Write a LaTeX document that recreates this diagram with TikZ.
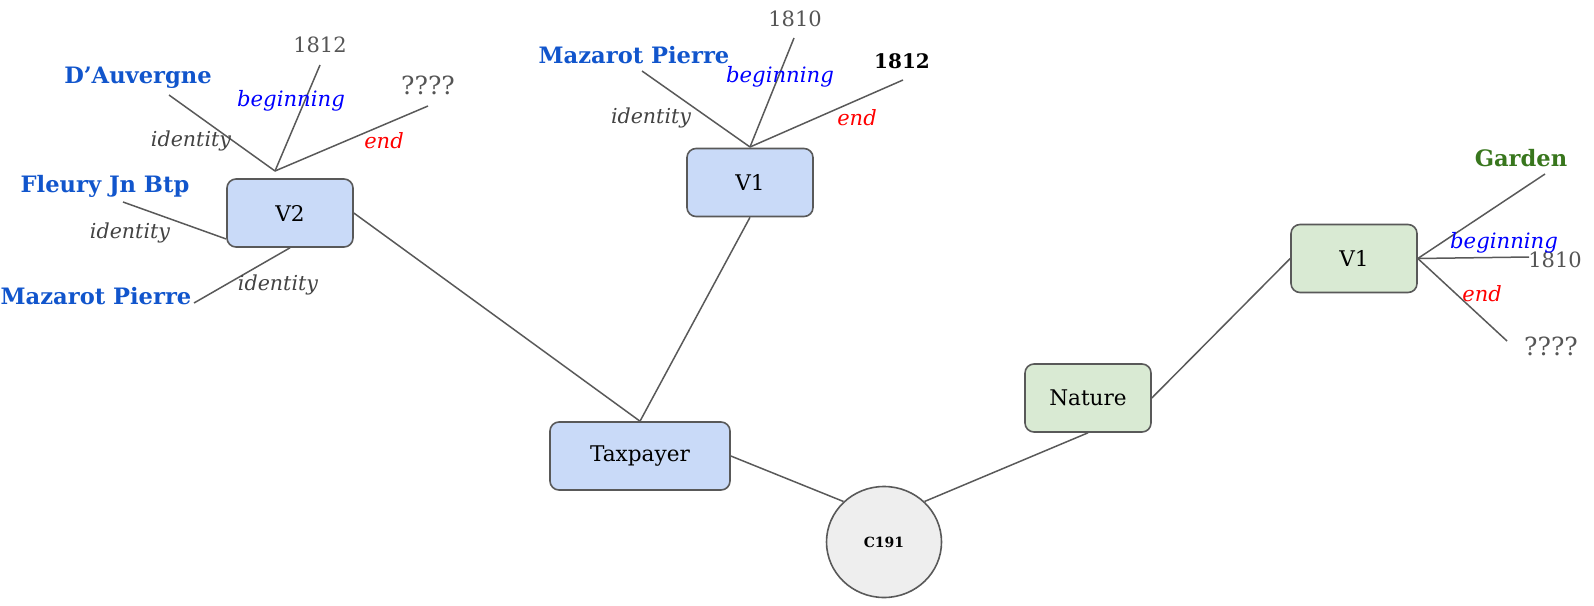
\documentclass[tikz,border=0pt]{standalone}
\usepackage{fontspec}
\usetikzlibrary{shapes.geometric}
\setmainfont{DejaVu Serif}
\definecolor{edgec}{HTML}{595959}
\definecolor{bluefill}{HTML}{C9DAF8}
\definecolor{greenfill}{HTML}{D9EAD3}
\definecolor{circfill}{HTML}{EEEEEE}
\definecolor{namec}{HTML}{1155CC}
\definecolor{gardenc}{HTML}{38761D}
\definecolor{greyt}{HTML}{555555}
\definecolor{idc}{HTML}{434343}
\tikzset{
  nodebox/.style={draw=edgec, line width=0.8pt, rounded corners=4.5pt, minimum width=63pt, minimum height=34pt, inner sep=0pt, font=\fontsize{10.8}{12}\selectfont},
  bluebox/.style={nodebox, fill=bluefill},
  greenbox/.style={nodebox, fill=greenfill},
  linkline/.style={draw=edgec, line width=0.75pt},
  nametext/.style={text=namec, font=\bfseries\fontsize{11.3}{13}\selectfont, inner sep=0pt},
  gnametext/.style={text=gardenc, font=\bfseries\fontsize{11.3}{13}\selectfont, inner sep=0pt},
  numtext/.style={text=greyt, font=\fontsize{10.5}{12}\selectfont, inner sep=0pt},
  qtext/.style={text=greyt, font=\fontsize{12.5}{14}\selectfont, inner sep=0pt},
  bnumtext/.style={text=black, font=\bfseries\fontsize{10}{12}\selectfont, inner sep=0pt},
  idtext/.style={text=idc, font=\itshape\fontsize{10.3}{12}\selectfont, inner sep=0pt},
  begtext/.style={text=blue, font=\itshape\fontsize{10.6}{12}\selectfont, inner sep=0pt},
  endtext/.style={text=red, font=\itshape\fontsize{10.5}{12}\selectfont, inner sep=0pt},
}
\begin{document}
\begin{tikzpicture}[x=0.5pt,y=-0.5pt]
\useasboundingbox (0,0) rectangle (1594,605);
% main nodes
\node[bluebox] (v2) at (290,213) {V2};
\node[bluebox] (v1) at (750,182.5) {V1};
\node[bluebox, minimum width=90pt] (tax) at (640,456) {Taxpayer};
\node[draw=edgec, line width=0.8pt, fill=circfill, ellipse, minimum width=57.5pt, minimum height=55.5pt, inner sep=0pt, font=\bfseries\fontsize{7}{8}\selectfont] (c191) at (884,542) {C191};
\node[greenbox] (nat) at (1088,398) {Nature};
\node[greenbox] (v1g) at (1354,258.5) {V1};
% main connectors
\draw[linkline] (v2.east) -- (tax.north);
\draw[linkline] (v1.south) -- (tax.north);
\draw[linkline] (tax.east) -- (c191.135);
\draw[linkline] (c191.45) -- (nat.south);
\draw[linkline] (nat.east) -- (v1g.west);
% V2 spokes
\coordinate (hubA) at (275,171);
\coordinate (dauv) at (169,95);
\coordinate (d1812a) at (320,65);
\coordinate (qa) at (428,106);
\coordinate (fleury) at (123,202);
\coordinate (maz1) at (194,303);
\draw[linkline] (hubA) -- (dauv);
\draw[linkline] (hubA) -- (d1812a);
\draw[linkline] (hubA) -- (qa);
\draw[linkline] (fleury) -- (v2.west|-0,239);
\draw[linkline] (maz1) -- (v2.south);
\node[nametext] (tdauv) at (138,78) {D’Auvergne};
\node[numtext] (t1812a) at (320,45) {1812};
\node[qtext] (tqa) at (428,85) {????};
\node[idtext] (ida) at (191,141) {identity};
\node[begtext] (bega) at (291,101) {beginning};
\node[endtext] (enda) at (384,141) {end};
\node[nametext] (tfleury) at (105,186) {Fleury Jn Btp};
\node[idtext] (idb) at (130,233) {identity};
\node[nametext] (tmaz1) at (96,296) {Mazarot Pierre};
\node[idtext] (idc) at (278,285) {identity};
% V1 spokes
\coordinate (hubB) at (750,147);
\coordinate (maz2) at (642,71);
\coordinate (d1810b) at (794,38);
\coordinate (d1812b) at (903,80);
\draw[linkline] (hubB) -- (maz2);
\draw[linkline] (hubB) -- (d1810b);
\draw[linkline] (hubB) -- (d1812b);
\node[nametext] (tmaz2) at (634,55) {Mazarot Pierre};
\node[numtext] (t1810b) at (795,19) {1810};
\node[bnumtext] (t1812b) at (902,61) {1812};
\node[idtext] (idd) at (651,118) {identity};
\node[begtext] (begb) at (780,77) {beginning};
\node[endtext] (endb) at (857,118) {end};
% V1 green spokes
\coordinate (garden) at (1545,174);
\coordinate (d1810c) at (1529,257);
\coordinate (qc) at (1507,341);
\draw[linkline] (v1g.east) -- (garden);
\draw[linkline] (v1g.east) -- (d1810c);
\draw[linkline] (v1g.east) -- (qc);
\node[gnametext] (tgarden) at (1521,158) {Garden};
\node[numtext] (t1810c) at (1555,260) {1810};
\node[qtext] (tqc) at (1551,346) {????};
\node[begtext] (begc) at (1504,243) {beginning};
\node[endtext] (endc) at (1482,294) {end};
\end{tikzpicture}
\end{document}
